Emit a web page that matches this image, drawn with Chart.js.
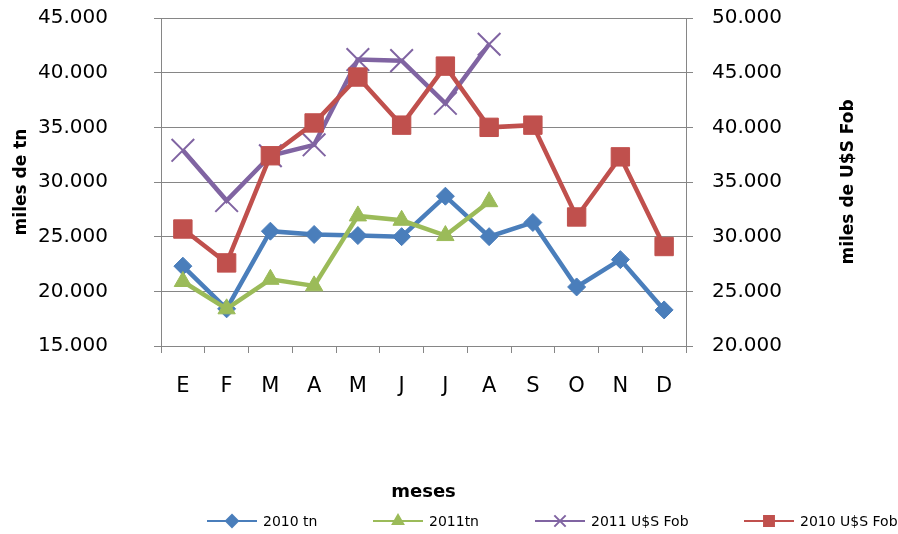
<!DOCTYPE html>
<html>
<head>
<meta charset="utf-8">
<script src="https://cdn.jsdelivr.net/npm/chart.js@4"></script>
<style>
    body { margin: 0; background: #fff; }
    #wrap { width: 898px; height: 534px; position: relative; }
</style>
</head>
<body>
<div id="wrap"><canvas id="chart"></canvas></div>
<script>
// Datos
const meses = ['E', 'F', 'M', 'A', 'M', 'J', 'J', 'A', 'S', 'O', 'N', 'D'];
const tn2010 = [22300, 18400, 25500, 25200, 25100, 25000, 28700, 25000, 26300, 20400, 22900, 18300];
const tn2011 = [20900, 18400, 21100, 20500, 26900, 26500, 25100, 28200, null, null, null, null];
const fob2011 = [37900, 33300, 37400, 38400, 46200, 46100, 42200, 47600, null, null, null, null];
const fob2010 = [30700, 27600, 37400, 40400, 44600, 40200, 45600, 40000, 40200, 31800, 37300, 29100];

const gris = '#868686';
const FONT = 'DejaVu Sans';
Chart.defaults.font.family = FONT;
Chart.defaults.color = '#000';

const fmt = v => v.toLocaleString('de-DE');

// titulo del eje derecho (leído de abajo hacia arriba, como el izquierdo)
const rightTitle = {
    id: 'rightTitle',
    afterDraw(chart) {
        const ctx = chart.ctx;
        ctx.save();
        ctx.translate(849, 182);
        ctx.rotate(-Math.PI / 2);
        ctx.font = 'bold 17px "' + FONT + '"';
        ctx.fillStyle = '#000';
        ctx.textAlign = 'center';
        ctx.textBaseline = 'middle';
        ctx.fillText('miles de U$S Fob', 0, 0);
        ctx.restore();
    }
};

// leyenda abajo: línea + marcador + texto
const legendLine = {
    id: 'legendLine',
    afterDraw(chart) {
        const ctx = chart.ctx;
        const y = 521;
        const starts = [207, 373, 535, 744];
        const sizes = [6, 6, 8, 7];
        chart.data.datasets.forEach((ds, i) => {
            const x0 = starts[i];
            ctx.save();
            ctx.strokeStyle = ds.borderColor;
            ctx.lineWidth = 2;
            ctx.beginPath();
            ctx.moveTo(x0, y);
            ctx.lineTo(x0 + 50, y);
            ctx.stroke();
            ctx.fillStyle = ds.pointBackgroundColor;
            ctx.strokeStyle = ds.pointBorderColor;
            Chart.helpers.drawPoint(ctx, {
                pointStyle: ds.pointStyle,
                radius: sizes[i],
                rotation: 0,
                borderWidth: ds.pointStyle === 'crossRot' ? 1.5 : 1
            }, x0 + 25, y);
            ctx.font = '14px "' + FONT + '"';
            ctx.fillStyle = '#000';
            ctx.textAlign = 'left';
            ctx.textBaseline = 'middle';
            ctx.fillText(ds.label, x0 + 56, y + 1);
            ctx.restore();
        });
    }
};

function serie(label, data, color, style, radius, axis, order) {
    return {
        label: label,
        data: data,
        yAxisID: axis,
        order: order,
        borderColor: color,
        backgroundColor: color,
        borderWidth: 4.5,
        pointStyle: style,
        pointRadius: radius,
        pointHoverRadius: radius,
        pointBackgroundColor: color,
        pointBorderColor: color,
        pointBorderWidth: style === 'crossRot' ? 2 : 1,
        tension: 0
    };
}

// fija el ancho de los ejes verticales sin que el padding de las etiquetas empuje el área
function fixV(width) {
    return s => {
        s.width = width;
        s.paddingTop = 12;
        s.paddingBottom = 12;
    };
}

new Chart(document.getElementById('chart'), {
    type: 'line',
    data: {
        labels: meses,
        datasets: [
            serie('2010 tn', tn2010, '#4a7ebb', 'rectRot', 9, 'y', 4),
            serie('2011tn', tn2011, '#9bbb59', 'triangle', 10, 'y', 3),
            serie('2011 U$S Fob', fob2011, '#8064a2', 'crossRot', 16, 'y1', 2),
            serie('2010 U$S Fob', fob2010, '#c0504d', 'rect', 13, 'y1', 1)
        ]
    },
    options: {
        responsive: true,
        maintainAspectRatio: false,
        animation: false,
        layout: { padding: { top: 14, left: 0, right: 0, bottom: 30 } },
        plugins: {
            legend: { display: false },
            tooltip: { enabled: false }
        },
        scales: {
            x: {
                offset: true,
                grid: { offset: true, drawOnChartArea: false, color: gris, tickLength: 7 },
                border: { color: gris, width: 1 },
                ticks: { font: { size: 21 }, padding: 21 },
                title: {
                    display: true,
                    text: 'meses',
                    font: { size: 18, weight: 'bold' },
                    padding: { top: 0, bottom: 1 }
                },
                afterFit: s => { s.height = 158; }
            },
            y: {
                position: 'left',
                min: 15000,
                max: 45000,
                ticks: { stepSize: 5000, callback: fmt, font: { size: 20 }, padding: 46 },
                grid: { color: gris, tickLength: 7 },
                border: { color: gris, width: 1 },
                title: {
                    display: true,
                    text: 'miles de tn',
                    font: { size: 17, weight: 'bold' },
                    padding: { top: 11 }
                },
                afterFit: fixV(161)
            },
            y1: {
                position: 'right',
                min: 20000,
                max: 50000,
                ticks: { stepSize: 5000, callback: fmt, font: { size: 20 }, padding: 19 },
                grid: { drawOnChartArea: false, color: gris, tickLength: 7 },
                border: { color: gris, width: 1 },
                afterFit: fixV(212)
            }
        }
    },
    plugins: [rightTitle, legendLine]
});
</script>
</body>
</html>
